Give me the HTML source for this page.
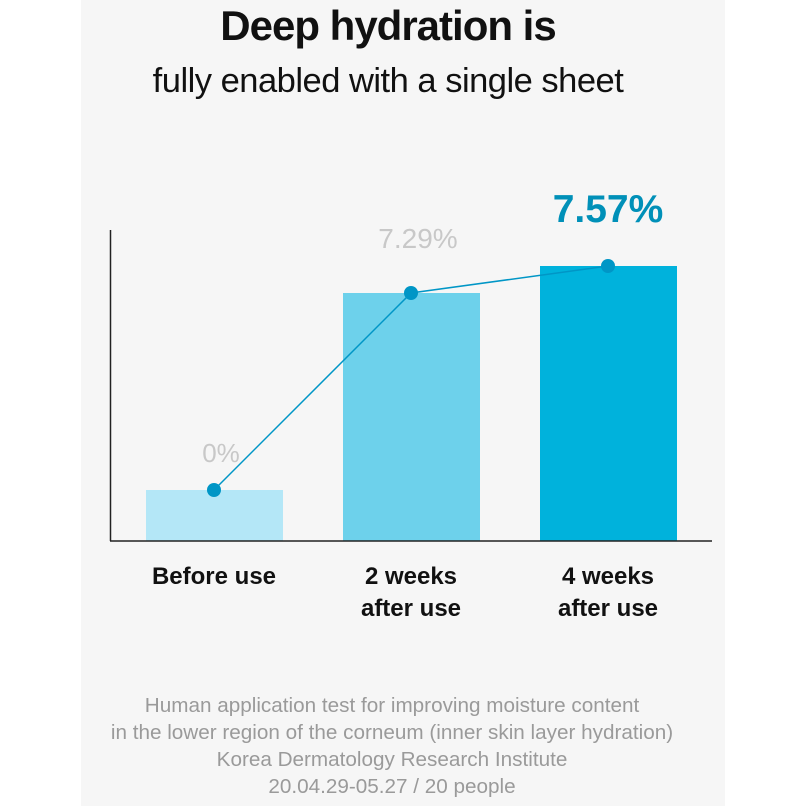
<!DOCTYPE html>
<html><head><meta charset="utf-8"><style>
html,body{margin:0;padding:0;background:#fff;}
body{width:806px;height:806px;position:relative;overflow:hidden;font-family:"Liberation Sans",sans-serif;}
.panel{position:absolute;left:81px;top:0;width:644px;height:806px;background:#f6f6f6;}
.t{position:absolute;left:-15px;width:806px;text-align:center;white-space:nowrap;}
</style></head><body>
<div class="panel"></div>
<div class="t" style="top:2px;font-size:42px;font-weight:bold;color:#111;letter-spacing:-1px;">Deep hydration is</div>
<div class="t" style="top:62px;font-size:34.5px;color:#111;letter-spacing:-0.5px;">fully enabled with a single sheet</div>
<svg style="position:absolute;left:0;top:0" width="806" height="806">
<rect x="146" y="490" width="137" height="51" fill="#b4e7f7"/>
<rect x="343" y="293" width="137" height="248" fill="#6dd1eb"/>
<rect x="540" y="266" width="137" height="275" fill="#00b2dc"/>
<line x1="110.5" y1="230" x2="110.5" y2="541" stroke="#222" stroke-width="1.5"/>
<line x1="110" y1="541" x2="712" y2="541" stroke="#222" stroke-width="1.5"/>
<polyline points="214,490 411,293 608,266" fill="none" stroke="#0096c6" stroke-width="1.5"/>
<circle cx="214" cy="490" r="7" fill="#0096c6"/>
<circle cx="411" cy="293" r="7" fill="#0096c6"/>
<circle cx="608" cy="266" r="7" fill="#0096c6"/>
<text x="221" y="462" text-anchor="middle" font-family="Liberation Sans" font-size="26" fill="#c8c8c8">0%</text>
<text x="418" y="248" text-anchor="middle" font-family="Liberation Sans" font-size="28" fill="#c8c8c8">7.29%</text>
<text x="608" y="222" text-anchor="middle" font-family="Liberation Sans" font-weight="bold" font-size="39" fill="#0090b8">7.57%</text>
<g font-family="Liberation Sans" font-size="24" font-weight="bold" fill="#111" text-anchor="middle">
<text x="214" y="584">Before use</text>
<text x="411" y="584">2 weeks</text>
<text x="411" y="616">after use</text>
<text x="608" y="584">4 weeks</text>
<text x="608" y="616">after use</text>
</g>
<g font-family="Liberation Sans" font-size="20.7" fill="#9a9a9a" text-anchor="middle">
<text x="392" y="712">Human application test for improving moisture content</text>
<text x="392" y="739">in the lower region of the corneum (inner skin layer hydration)</text>
<text x="392" y="766">Korea Dermatology Research Institute</text>
<text x="392" y="793">20.04.29-05.27 / 20 people</text>
</g>
</svg>
</body></html>
